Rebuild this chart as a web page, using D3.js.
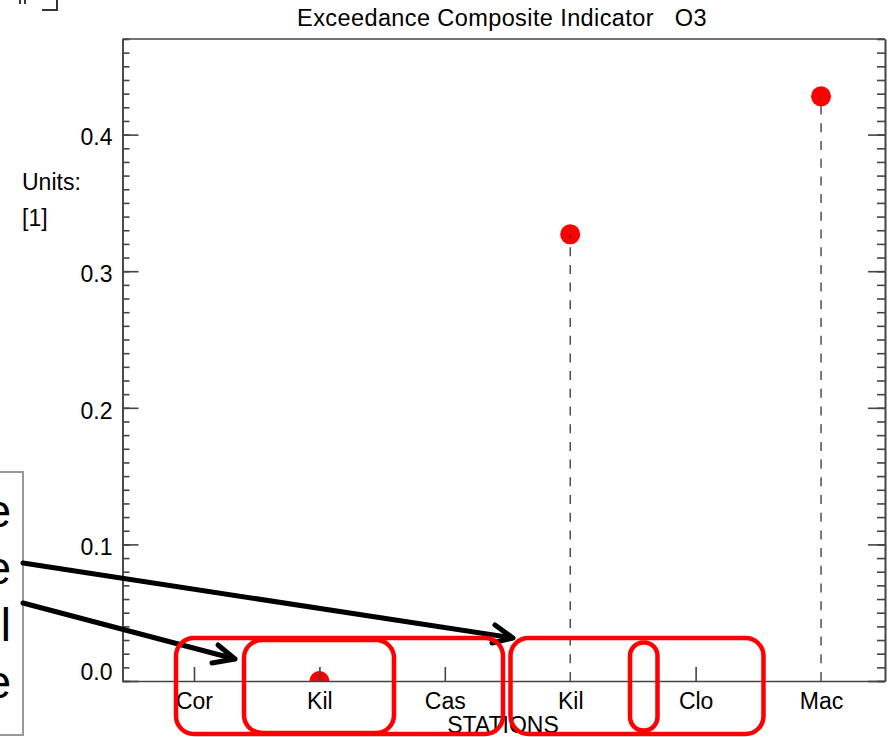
<!DOCTYPE html>
<html>
<head>
<meta charset="utf-8">
<script src="https://cdn.jsdelivr.net/npm/d3@7"></script>
<style>
  body { margin: 0; background: #fff; }
  svg { display: block; font-family: 'Liberation Sans', Arial, sans-serif; }
</style>
</head>
<body>
<svg id="chart" width="889" height="737"></svg>
<script>
// chart data
const stations = ['Cor', 'Kil', 'Cas', 'Kil', 'Clo', 'Mac']
const values = [null, 0.0, null, 0.327, null, 0.428]
const majorTicks = [0.0, 0.1, 0.2, 0.3, 0.4]
const minorTicks = d3.range(0, 48).map(i => i / 100)

const title = 'Exceedance Composite Indicator   O3'
const xTitle = 'STATIONS'
const unitLines = ['Units:', '[1]']
const noteWords = ['These', 'are', 'all', 'the']

let svg = d3.select('#chart')
let pLeft = 122.5, pRight = 885, pTop = 39, pBottom = 681
let axisColor = '#444'

let x = d3.scaleLinear().domain([-0.57, 5.51]).range([pLeft, pRight])
let y = d3.scaleLinear().domain([0, 0.47]).range([pBottom, pTop])

svg.append('defs').append('clipPath')
  .attr('id', 'plotClip')
  .append('rect')
  .attr('x', pLeft).attr('y', pTop)
  .attr('width', pRight - pLeft).attr('height', pBottom - pTop)

// title
svg.append('text')
  .text(title)
  .attr('x', 502).attr('y', 26)
  .attr('text-anchor', 'middle')
  .attr('font-size', 23.5)
  .attr('letter-spacing', 0.4)
  .style('white-space', 'pre')

// units
svg.selectAll('.unit')
  .data(unitLines)
  .enter()
  .append('text')
  .attr('class', 'unit')
  .text(d => d)
  .attr('x', 22)
  .attr('y', (d, i) => 190 + i * 36)
  .attr('font-size', 23)

// stems and points
let plot = svg.append('g').attr('clip-path', 'url(#plotClip)')
let idx = d3.range(stations.length).filter(i => values[i] !== null)

plot.selectAll('circle')
  .data(idx)
  .enter()
  .append('circle')
  .attr('cx', i => x(i))
  .attr('cy', i => y(values[i]))
  .attr('r', 10)
  .attr('fill', '#ff0000')

plot.selectAll('line.stem')
  .data(idx.filter(i => values[i] > 0))
  .enter()
  .append('line')
  .attr('class', 'stem')
  .attr('x1', i => x(i)).attr('x2', i => x(i))
  .attr('y1', y(0)).attr('y2', i => y(values[i]))
  .attr('stroke', '#333')
  .attr('stroke-width', 1.3)
  .attr('stroke-dasharray', '9,8.7')

// bottom axis
let xAxis = d3.axisBottom(x)
  .tickValues(d3.range(stations.length))
  .tickFormat(i => stations[i])
  .tickSizeInner(-14)
  .tickSizeOuter(0)
  .tickPadding(12)

let gx = svg.append('g')
  .attr('transform', 'translate(0,' + pBottom + ')')
  .call(xAxis)
gx.selectAll('.tick line')
  .attr('display', i => values[i] > 0 ? 'none' : null)
gx.selectAll('.tick text').attr('font-size', 23).attr('fill', '#000')

// left axis
let yAxis = d3.axisLeft(y)
  .tickValues(majorTicks)
  .tickFormat(d3.format('.1f'))
  .tickSizeInner(-16)
  .tickSizeOuter(0)
  .tickPadding(10)

let gy = svg.append('g')
  .attr('transform', 'translate(' + pLeft + ',0)')
  .call(yAxis)
gy.selectAll('.tick text')
  .attr('font-size', 23)
  .attr('fill', '#000')
  .attr('dy', d => d === 0 ? '-0.05em' : '0.45em')

svg.append('g')
  .attr('transform', 'translate(' + pLeft + ',0)')
  .call(d3.axisLeft(y).tickValues(minorTicks).tickFormat('').tickSizeInner(-7).tickSizeOuter(0))

// right axis
svg.append('g')
  .attr('transform', 'translate(' + pRight + ',0)')
  .call(d3.axisRight(y).tickValues(majorTicks).tickFormat('').tickSizeInner(-17).tickSizeOuter(0))

svg.append('g')
  .attr('transform', 'translate(' + pRight + ',0)')
  .call(d3.axisRight(y).tickValues(minorTicks).tickFormat('').tickSizeInner(-8).tickSizeOuter(0))

// top line
svg.append('line')
  .attr('x1', pLeft).attr('x2', pRight)
  .attr('y1', pTop).attr('y2', pTop)

svg.selectAll('.domain, .tick line, line:not(.stem)')
  .attr('stroke', axisColor)
  .attr('stroke-width', 1.6)

svg.append('text')
  .text(xTitle)
  .attr('x', 503).attr('y', 733)
  .attr('text-anchor', 'middle')
  .attr('font-size', 23)

// overlay note box and arrows
svg.append('path')
  .attr('d', 'M20,0 V4 M25,0 V4 M42,10 H57 V0')
  .attr('stroke', '#334')
  .attr('stroke-width', 2)
  .attr('fill', 'none')

svg.append('rect')
  .attr('x', -10).attr('y', 472)
  .attr('width', 33).attr('height', 263)
  .attr('fill', '#fff')
  .attr('stroke', '#999')
  .attr('stroke-width', 2)

svg.selectAll('.note')
  .data(noteWords)
  .enter()
  .append('text')
  .attr('class', 'note')
  .text(d => d)
  .attr('x', 11)
  .attr('y', (d, i) => 527 + i * 57)
  .attr('text-anchor', 'end')
  .attr('font-size', 46)

let arrows = [
  'M23,563 L513,638 M495,625 L513,638 L492,643',
  'M23,603 L235,659 M218,645 L235,659 L212,663'
]
svg.selectAll('.arrow')
  .data(arrows)
  .enter()
  .append('path')
  .attr('class', 'arrow')
  .attr('d', d => d)
  .attr('fill', 'none')
  .attr('stroke', '#000')
  .attr('stroke-width', 5)
  .attr('stroke-linecap', 'round')
  .attr('stroke-linejoin', 'round')

let boxes = [
  [176, 638, 327, 96, 18],
  [244, 640, 150, 93, 18],
  [510.5, 638, 253, 96, 18],
  [630, 642.5, 27.5, 88, 13.5]
]
svg.selectAll('.mark')
  .data(boxes)
  .enter()
  .append('rect')
  .attr('class', 'mark')
  .attr('x', d => d[0]).attr('y', d => d[1])
  .attr('width', d => d[2]).attr('height', d => d[3])
  .attr('rx', d => d[4])
  .attr('fill', 'none')
  .attr('stroke', '#ff0000')
  .attr('stroke-width', 4.5)
</script>
</body>
</html>
